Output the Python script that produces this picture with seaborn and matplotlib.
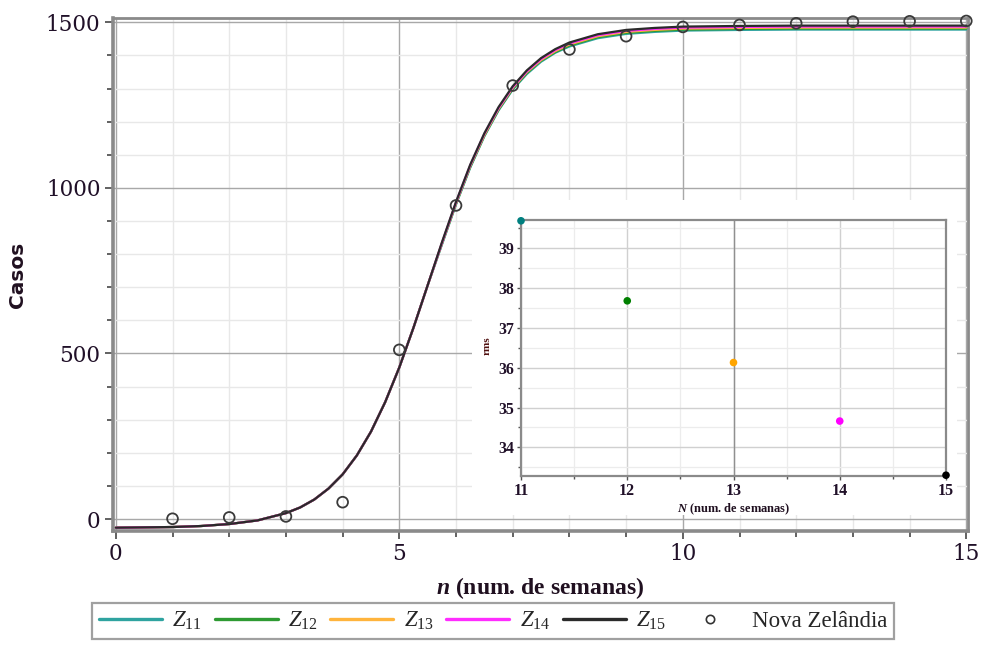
import numpy as np
import pandas as pd
import matplotlib
matplotlib.use("Agg")
import matplotlib.pyplot as plt
from matplotlib.lines import Line2D
from matplotlib.patches import Rectangle
from matplotlib.ticker import MultipleLocator
import seaborn as sns

# ---------------- data ----------------
semanas = [1, 2, 3, 4, 5, 6, 7, 8, 9, 10, 11, 12, 13, 14, 15]
casos_nz = [1, 5, 8, 51, 511, 947, 1309, 1418, 1458, 1486, 1492, 1497, 1502, 1503, 1504]

n_curva = [0, 0.5, 1, 1.5, 2, 2.5, 3, 3.25, 3.5, 3.75, 4, 4.25, 4.5, 4.75, 5, 5.25,
           5.5, 5.75, 6, 6.25, 6.5, 6.75, 7, 7.25, 7.5, 7.75, 8, 8.5, 9, 9.5, 10,
           11, 12, 13, 14, 15]
_base = [-26, -25, -24, -21, -15, -4, 18, 35, 59, 92, 135, 192, 264, 353, 458, 578, 706]
z15 = _base + [835, 958, 1070, 1165, 1244, 1307, 1355, 1392, 1419, 1439, 1464, 1477, 1483, 1487, 1489, 1490, 1490, 1490, 1490]
z14 = _base + [833, 956, 1068, 1163, 1241, 1304, 1352, 1389, 1416, 1436, 1461, 1474, 1480, 1484, 1486, 1487, 1487, 1487, 1487]
z13 = _base + [832, 954, 1066, 1160, 1239, 1302, 1350, 1386, 1413, 1433, 1458, 1471, 1477, 1481, 1483, 1484, 1484, 1484, 1484]
z12 = _base + [830, 952, 1063, 1158, 1236, 1299, 1347, 1384, 1410, 1430, 1455, 1468, 1474, 1478, 1480, 1481, 1481, 1481, 1481]
z11 = _base + [828, 950, 1061, 1156, 1234, 1297, 1344, 1381, 1408, 1427, 1452, 1465, 1471, 1475, 1477, 1478, 1478, 1478, 1478]

modelos = ["Z11", "Z12", "Z13", "Z14", "Z15"]
legendas = [r"$Z_{11}$", r"$Z_{12}$", r"$Z_{13}$", r"$Z_{14}$", r"$Z_{15}$"]
cores = ["#2fa3a0", "#2e9a32", "#ffb43c", "#ff2cff", "#2a2a2a"]

N_semanas = [11, 12, 13, 14, 15]
rms = [39.69, 37.68, 36.13, 34.66, 33.30]
cores_rms = ["#008080", "#008000", "#ffa500", "#ff00ff", "#000000"]

# ---------------- style ----------------
sns.set_theme(style="white")
plt.rcParams["font.family"] = ["Liberation Serif", "DejaVu Serif"]
plt.rcParams["mathtext.fontset"] = "custom"
plt.rcParams["mathtext.rm"] = "Liberation Serif"
plt.rcParams["mathtext.it"] = "Liberation Serif:italic"
plt.rcParams["mathtext.bf"] = "Liberation Serif:bold"
plt.rcParams["mathtext.bfit"] = "Liberation Serif:bold:italic"

tick_col = "#201028"
fig = plt.figure(figsize=(9.81, 6.46), dpi=100)

# ---------------- main axes ----------------
ax = fig.add_axes([113 / 981, 1 - 531 / 646, 855 / 981, 513 / 646])
ax.set_facecolor("white")

curvas = pd.DataFrame({
    "n": np.tile(n_curva, len(modelos)),
    "casos": np.concatenate([z11, z12, z13, z14, z15]),
    "modelo": np.repeat(modelos, len(n_curva)),
})
sns.lineplot(data=curvas, x="n", y="casos", hue="modelo", hue_order=modelos,
             palette=dict(zip(modelos, cores)), estimator=None, sort=False,
             linewidth=1.6, legend=False, ax=ax, zorder=3)
pts = pd.DataFrame({"n": semanas, "casos": casos_nz})
sns.scatterplot(data=pts, x="n", y="casos", ax=ax, s=60, marker="o",
                facecolor="none", edgecolor="#3a3a3a", linewidth=1.3,
                zorder=4, clip_on=False, legend=False)

ax.set_xlim(-0.05, 15.03)
ax.set_ylim(-36, 1513)
ax.xaxis.set_major_locator(MultipleLocator(5))
ax.xaxis.set_minor_locator(MultipleLocator(1))
ax.yaxis.set_major_locator(MultipleLocator(500))
ax.yaxis.set_minor_locator(MultipleLocator(100))
ax.grid(which="minor", color="#e8e8e8", linewidth=1.0, zorder=0)
ax.grid(which="major", color="#a8a8a8", linewidth=1.0, zorder=0)
ax.set_axisbelow(True)
for s in ax.spines.values():
    s.set_visible(True)
    s.set_color("#8a8a8a")
    s.set_linewidth(2.0)
ax.spines["left"].set_linewidth(2.6)
ax.spines["bottom"].set_linewidth(2.6)
ax.tick_params(which="major", direction="out", length=6, width=1.3, color="#555555",
               labelsize=15.5, labelcolor=tick_col, left=True, bottom=True, pad=3)
ax.tick_params(which="minor", direction="out", length=4, width=1.3, color="#555555",
               left=True, bottom=True)
for lab in ax.get_xticklabels() + ax.get_yticklabels():
    lab.set_fontfamily("DejaVu Serif")

ax.set_xlabel(r"$\mathbfit{n}$ (num. de semanas)", fontsize=17, fontweight="bold",
              color="#201020")
ax.xaxis.set_label_coords(0.5, -0.086)
ax.set_ylabel("Casos", fontsize=14.5, fontweight="bold", color="#201020",
              fontfamily="DejaVu Sans")
ax.yaxis.set_label_coords(-0.1, 0.5)

# white backdrop behind the inset
fig.patches.append(Rectangle((472 / 981, 1 - 515 / 646), (957 - 472) / 981,
                             (515 - 200) / 646, transform=fig.transFigure,
                             facecolor="white", edgecolor="none", zorder=2))

# ---------------- inset ----------------
axi = fig.add_axes([521 / 981, 1 - 476 / 646, 425 / 981, 256 / 646], zorder=5)
axi.set_facecolor("white")
dfr = pd.DataFrame({"N": N_semanas, "rms": rms, "cor": [str(v) for v in N_semanas]})
sns.scatterplot(data=dfr, x="N", y="rms", hue="cor",
                palette=dict(zip([str(v) for v in N_semanas], cores_rms)),
                s=30, linewidth=0, ax=axi, legend=False, zorder=4, clip_on=False)
axi.set_xlim(11, 15)
axi.set_ylim(33.28, 39.71)
axi.xaxis.set_major_locator(MultipleLocator(1))
axi.xaxis.set_minor_locator(MultipleLocator(0.5))
axi.yaxis.set_major_locator(MultipleLocator(1))
axi.yaxis.set_minor_locator(MultipleLocator(0.5))
axi.grid(which="minor", color="#ececec", linewidth=0.9)
axi.grid(which="major", color="#d0d0d0", linewidth=1.0)
axi.axvline(13, color="#909090", linewidth=1.0, zorder=1)
axi.set_axisbelow(True)
for s in axi.spines.values():
    s.set_visible(True)
    s.set_color("#8a8a8a")
    s.set_linewidth(1.6)
axi.tick_params(which="major", direction="out", length=3, width=1, color="#555555",
                labelsize=11.5, labelcolor=tick_col, left=True, bottom=True, pad=2)
axi.tick_params(which="minor", direction="out", length=2, width=1, color="#555555",
                left=True, bottom=True)
for lab in axi.get_xticklabels() + axi.get_yticklabels():
    lab.set_fontweight("bold")
axi.set_xlabel(r"$\mathbfit{N}$ (num. de semanas)", fontsize=9, fontweight="bold",
               color="#201020")
axi.xaxis.set_label_coords(0.5, -0.1)
axi.set_ylabel("rms", fontsize=8, fontweight="bold", color="#501010")
axi.yaxis.set_label_coords(-0.068, 0.51)

# ---------------- legend ----------------
handles = [Line2D([0], [0], color=c, linewidth=2.4) for c in cores]
handles.append(Line2D([0], [0], linestyle="none", marker="o", markersize=6,
                      markerfacecolor="none", markeredgecolor="#333333",
                      markeredgewidth=1.2))
labels = legendas + ["Nova Zelândia"]
leg = fig.legend(handles, labels, loc="upper left",
                 bbox_to_anchor=(92 / 981, 1 - 603 / 646), ncol=6, frameon=True,
                 fancybox=False, edgecolor="#888888", fontsize=16.5,
                 handlelength=2.75, handletextpad=0.45, columnspacing=0.55,
                 borderpad=0.3, borderaxespad=0)
leg.get_frame().set_linewidth(1.6)

fig.savefig("out.png", dpi=100, facecolor="white")
